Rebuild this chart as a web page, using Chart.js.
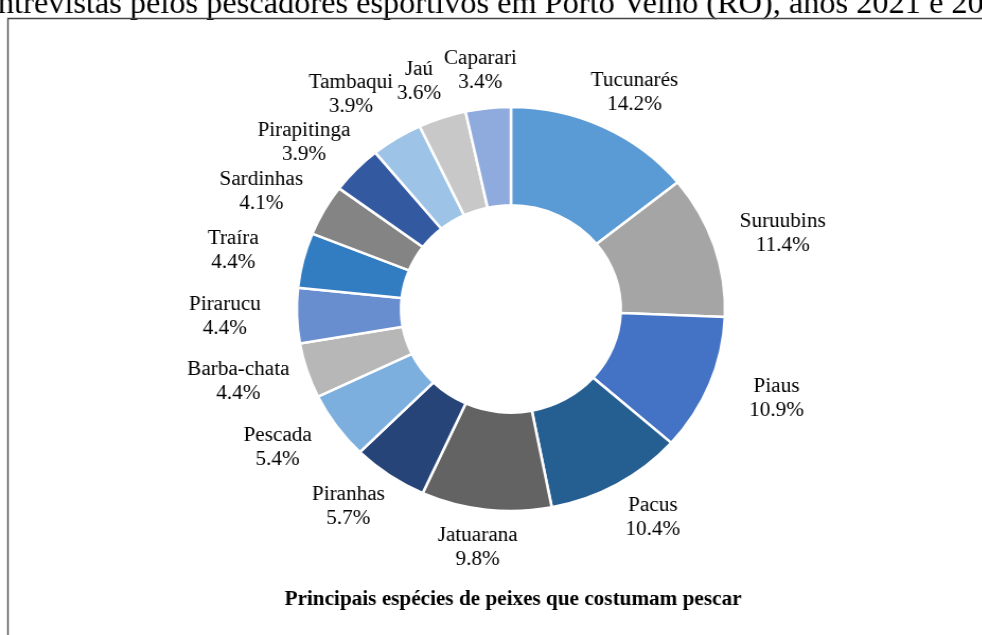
<!DOCTYPE html>
<html>
<head>
<meta charset="utf-8">
<script src="https://cdn.jsdelivr.net/npm/chart.js@4"></script>
<style>
  html, body { margin: 0; padding: 0; background: #fff; overflow: hidden; }
  #wrap { position: absolute; left: 0; top: 0; width: 926px; height: 635px; transform: scaleX(1.06); transform-origin: 0 0; }
</style>
</head>
<body>
<div id="wrap"><canvas id="c"></canvas></div>
<script>
const categories = ['Tucunarés','Suruubins','Piaus','Pacus','Jatuarana','Piranhas','Pescada','Barba-chata','Pirarucu','Traíra','Sardinhas','Pirapitinga','Tambaqui','Jaú','Caparari'];
const values = [14.2, 11.4, 10.9, 10.4, 9.8, 5.7, 5.4, 4.4, 4.4, 4.4, 4.1, 3.9, 3.9, 3.6, 3.4];
const colors = ['#5B9BD5','#A5A5A5','#4472C4','#255E91','#636363','#264478','#7CAFDD','#B7B7B7','#698ED0','#327DC2','#848484','#335AA1','#9DC3E6','#C8C8C8','#8FAADC'];
const chartTitle = 'Principais espécies de peixes que costumam pescar';
const pageText = 'ntrevistas pelos pescadores esportivos em Porto Velho (RO), anos 2021 e 2022';

const SERIF = '"Liberation Serif", "Times New Roman", serif';

const decor = {
  id: 'decor',
  beforeDraw(chart) {
    const ctx = chart.ctx;
    ctx.save();
    ctx.fillStyle = '#fff';
    ctx.fillRect(0, 0, chart.width, chart.height);
    ctx.fillStyle = '#000';
    ctx.font = '30.5px ' + SERIF;
    ctx.textAlign = 'left';
    ctx.textBaseline = 'alphabetic';
    ctx.fillText(pageText, -2, 13);
    ctx.strokeStyle = '#444';
    ctx.lineWidth = 1.3;
    ctx.beginPath();
    ctx.moveTo(7.5, chart.height + 2);
    ctx.lineTo(7.5, 18.5);
    ctx.lineTo(chart.width + 2, 18.5);
    ctx.stroke();
    ctx.restore();
  },
  afterDraw(chart) {
    const ctx = chart.ctx;
    ctx.save();
    ctx.fillStyle = '#000';
    ctx.font = 'bold 20px ' + SERIF;
    ctx.textAlign = 'center';
    ctx.textBaseline = 'middle';
    ctx.fillText(chartTitle, 484, 600);
    ctx.restore();
  }
};

const outLabels = {
  id: 'outLabels',
  afterDatasetsDraw(chart) {
    const ctx = chart.ctx;
    const meta = chart.getDatasetMeta(0);
    ctx.save();
    ctx.font = '20px ' + SERIF;
    ctx.fillStyle = '#000';
    ctx.textAlign = 'center';
    ctx.textBaseline = 'middle';
    const placed = [];
    const overlaps = (b) => placed.some(q => b.x0 < q.x1 && b.x1 > q.x0 && b.y0 < q.y1 && b.y1 > q.y0);
    meta.data.forEach((arc, i) => {
      const p = arc.getProps(['x','y','startAngle','endAngle','outerRadius'], true);
      const mid = (p.startAngle + p.endAngle) / 2;
      const l1 = categories[i];
      const l2 = values[i].toFixed(1) + '%';
      const w = Math.max(ctx.measureText(l1).width, ctx.measureText(l2).width) / 2;
      const h = 24;
      let extra = 0, cx, cy, box;
      do {
        const a = p.outerRadius + 68 + extra;
        const b = p.outerRadius + 38 + extra;
        cx = p.x + a * Math.cos(mid);
        cy = p.y + b * Math.sin(mid);
        box = { x0: cx - w, x1: cx + w, y0: cy - h, y1: cy + h };
        extra += 1;
      } while (overlaps(box) && extra < 80);
      placed.push(box);
      ctx.fillText(l1, cx, cy - 12);
      ctx.fillText(l2, cx, cy + 12);
    });
    ctx.restore();
  }
};

new Chart(document.getElementById('c'), {
  type: 'doughnut',
  data: {
    labels: categories,
    datasets: [{
      data: values,
      backgroundColor: colors,
      borderColor: '#fff',
      borderWidth: 2.5,
      radius: 202,
      cutout: 103
    }]
  },
  options: {
    responsive: true,
    maintainAspectRatio: false,
    animation: false,
    layout: { padding: { left: 38, right: 0, top: 107, bottom: 124 } },
    plugins: { legend: { display: false }, tooltip: { enabled: false }, title: { display: false } }
  },
  plugins: [decor, outLabels]
});
</script>
</body>
</html>
